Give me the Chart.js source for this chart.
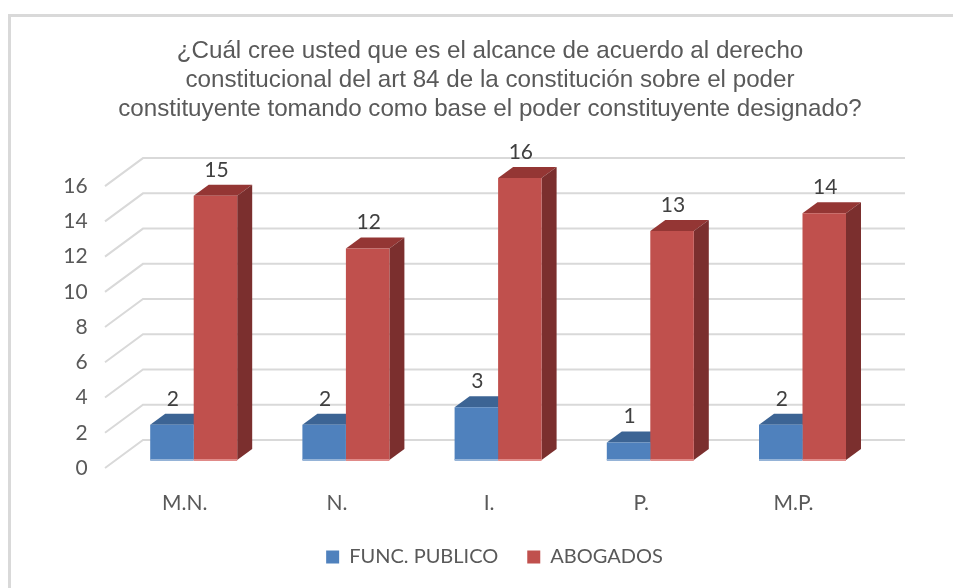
<!DOCTYPE html>
<html>
<head>
<meta charset="utf-8">
<style>
  body { margin: 0; background: #fff; }
  #wrap { width: 953px; height: 588px; }
</style>
<script src="https://cdn.jsdelivr.net/npm/chart.js@4"></script>
</head>
<body>
<div id="wrap"><canvas id="chart1"></canvas></div>
<script>
var categories = ["M.N.", "N.", "I.", "P.", "M.P."];
var funcPublico = [2, 2, 3, 1, 2];
var abogados = [15, 12, 16, 13, 14];
var titleLines = [
  "¿Cuál cree usted que es el alcance de acuerdo al derecho",
  "constitucional del art 84 de la constitución sobre el poder",
  "constituyente tomando como base el poder constituyente designado?"
];

var textColor = "#595959";
var gridColor = "#d9d9d9";
var barDx = 15, barDy = 11;
var topColors = ["#3c6494", "#943634"];
var sideColors = ["#2f4f75", "#7b2f2e"];
var stripColors = ["#95b3d7", "#e08a88"];

function poly(ctx, pts, color) {
  ctx.fillStyle = color;
  ctx.beginPath();
  ctx.moveTo(pts[0][0], pts[0][1]);
  for (var i = 1; i < pts.length; i++) ctx.lineTo(pts[i][0], pts[i][1]);
  ctx.closePath();
  ctx.fill();
}

// walls, grid and the depth faces of the bars go under the normal bars
var depthPlugin = {
  id: "depth",
  afterLayout: function(chart) {
    // title and legend are not centred on the plot in the original
    chart.titleBlock.left += 50.7;
    chart.titleBlock.right += 50.7;
    chart.legend.left += 55.2;
    chart.legend.right += 55.2;
  },
  beforeDraw: function(chart) {
    var ctx = chart.ctx;
    ctx.save();
    ctx.strokeStyle = gridColor;
    ctx.lineWidth = 3;
    ctx.beginPath();
    ctx.moveTo(9.5, 588);
    ctx.lineTo(9.5, 15.5);
    ctx.lineTo(953, 15.5);
    ctx.stroke();
    ctx.restore();
  },
  beforeDatasetsDraw: function(chart) {
    var ctx = chart.ctx, y = chart.scales.y;
    ctx.save();
    ctx.strokeStyle = gridColor;
    ctx.lineWidth = 2;
    y.ticks.forEach(function(t) {
      var p = y.getPixelForValue(t.value);
      ctx.beginPath();
      ctx.moveTo(105, p + 8);
      ctx.lineTo(143, p - 20);
      ctx.lineTo(905, p - 20);
      ctx.stroke();
    });
    chart.data.datasets.forEach(function(ds, d) {
      chart.getDatasetMeta(d).data.forEach(function(bar) {
        var l = bar.x - bar.width / 2, r = bar.x + bar.width / 2;
        poly(ctx, [[l, bar.y], [l + barDx, bar.y - barDy], [r + barDx, bar.y - barDy], [r, bar.y]], topColors[d]);
        poly(ctx, [[r, bar.y], [r + barDx, bar.y - barDy], [r + barDx, bar.base - barDy], [r, bar.base]], sideColors[d]);
      });
    });
    ctx.restore();
  },
  afterDatasetsDraw: function(chart) {
    var ctx = chart.ctx;
    ctx.save();
    ctx.font = "21px Lato";
    ctx.textAlign = "center";
    ctx.textBaseline = "middle";
    chart.data.datasets.forEach(function(ds, d) {
      chart.getDatasetMeta(d).data.forEach(function(bar, i) {
        ctx.fillStyle = stripColors[d];
        ctx.fillRect(bar.x - bar.width / 2, bar.base - 1, bar.width, 2);
        ctx.fillStyle = "#404040";
        ctx.fillText(ds.data[i], bar.x + 1, bar.y - 26);
      });
    });
    ctx.restore();
  }
};

new Chart(document.getElementById("chart1"), {
  type: "bar",
  data: {
    labels: categories,
    datasets: [
      { label: "FUNC. PUBLICO", backgroundColor: "#4f81bd", data: funcPublico },
      { label: "ABOGADOS", backgroundColor: "#c0504d", data: abogados }
    ]
  },
  options: {
    responsive: true,
    maintainAspectRatio: false,
    animation: false,
    layout: { padding: { left: 0, right: 74.4, top: 0, bottom: 11 } },
    datasets: { bar: { barPercentage: 1, categoryPercentage: 0.5716 } },
    scales: {
      x: {
        grid: { display: false },
        border: { display: false },
        ticks: { color: textColor, font: { family: "Lato", size: 21 }, padding: 23, labelOffset: -9 },
        afterFit: function(scale) { scale.height = 58; }
      },
      y: {
        min: 0,
        max: 16,
        grid: { display: false },
        border: { display: false },
        ticks: { stepSize: 2, color: textColor, font: { family: "Lato", size: 21 }, padding: 22, labelOffset: 8 },
        afterFit: function(scale) { scale.width = 117.6; }
      }
    },
    plugins: {
      title: {
        display: true,
        text: titleLines,
        color: textColor,
        font: { family: "Liberation Sans", size: 24.2, weight: "normal", lineHeight: 1.2 },
        padding: { top: 36.5, bottom: 54.5 }
      },
      legend: {
        position: "bottom",
        labels: { color: textColor, boxWidth: 13, boxHeight: 13, padding: 29, font: { family: "Lato", size: 20 } }
      },
      tooltip: { enabled: false }
    }
  },
  plugins: [depthPlugin]
});
</script>
</body>
</html>
